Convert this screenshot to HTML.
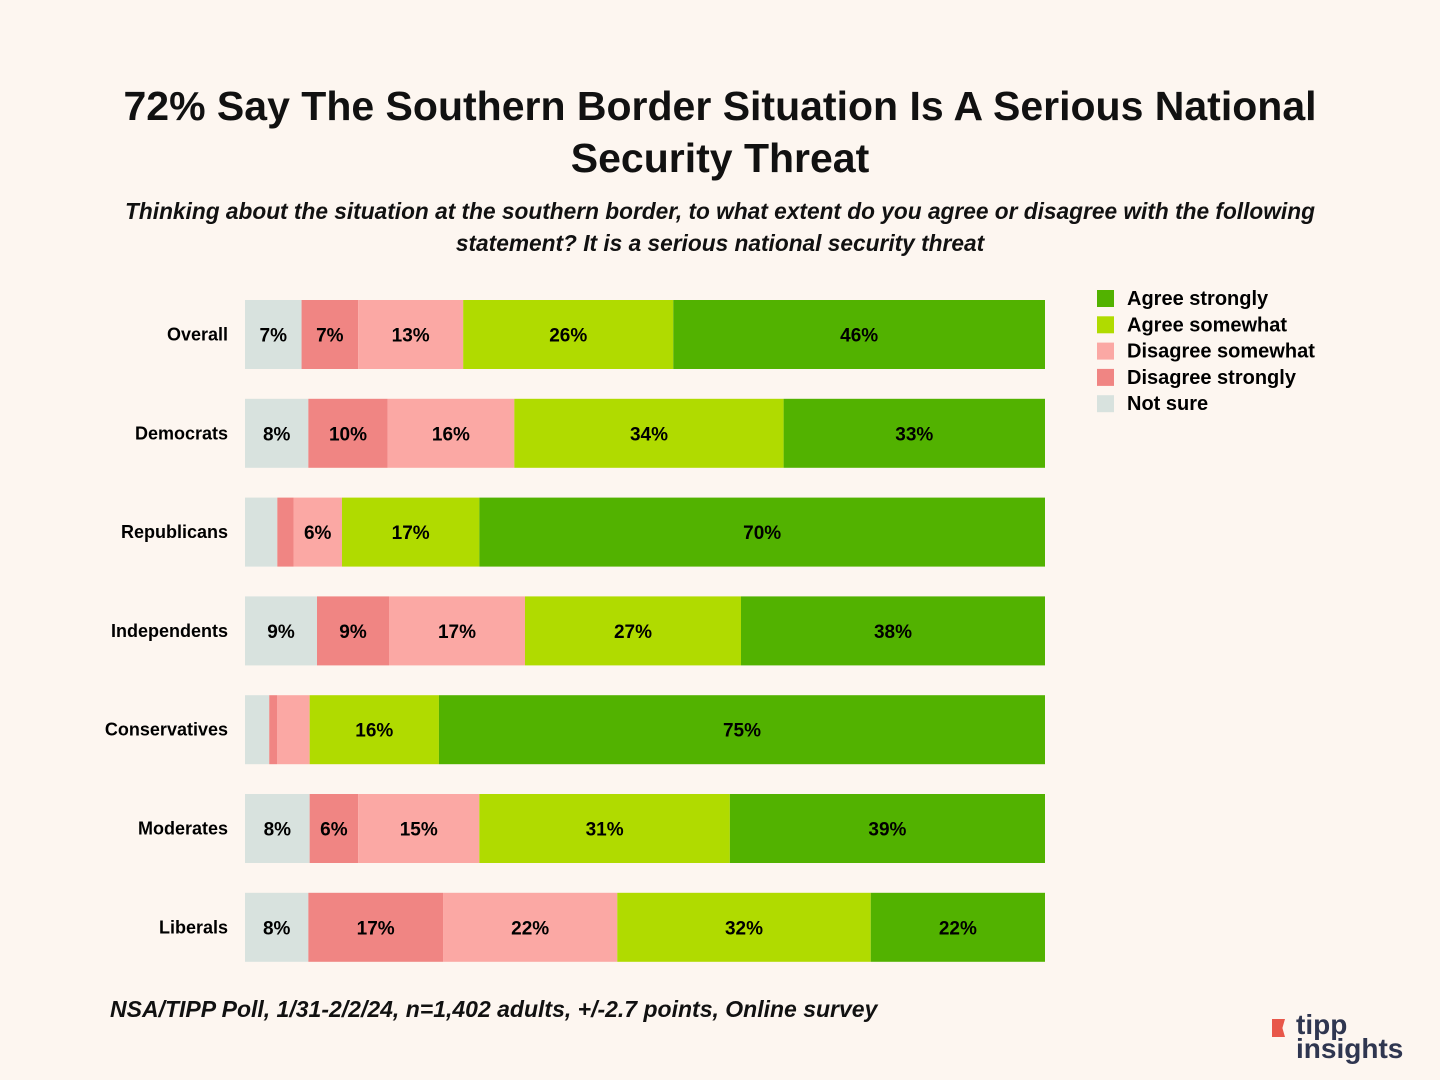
<!DOCTYPE html>
<html><head><meta charset="utf-8"><style>
body{margin:0;background:#fdf6f0;font-family:"Liberation Sans",sans-serif;}
#wrap{position:relative;width:1440px;height:1080px;overflow:hidden;background:#fdf6f0;}
.t{position:absolute;left:0;width:1440px;text-align:center;font-weight:bold;font-size:41px;color:#111;}
.sub{position:absolute;left:0;width:1440px;text-align:center;font-style:italic;font-weight:bold;font-size:22.7px;color:#111;}
</style></head><body>
<div id="wrap">
<div class="t" style="top:80px;line-height:52px">72% Say The Southern Border Situation Is A Serious National<br>Security Threat</div>
<div class="sub" style="top:195px;line-height:32px">Thinking about the situation at the southern border, to what extent do you agree or disagree with the following<br>statement? It is a serious national security threat</div>
<svg id="chart" width="1440" height="1080" style="position:absolute;left:0;top:0"></svg>
<div style="position:absolute;left:110px;top:996px;font-style:italic;font-weight:bold;font-size:23px;color:#111">NSA/TIPP Poll, 1/31-2/2/24, n=1,402 adults, +/-2.7 points, Online survey</div>
<div style="position:absolute;left:1258px;top:1014px">
<div style="position:absolute;left:14px;top:5px;width:13px;height:18px;background:#e8574a;clip-path:polygon(0 0,100% 0,80% 50%,100% 100%,0 100%)"></div>
<div style="position:absolute;left:38px;top:-2px;font-weight:bold;font-size:28px;color:#2f3650;line-height:26px">tipp</div>
<div style="position:absolute;left:38px;top:22px;font-weight:bold;font-size:28px;color:#2f3650;line-height:26px">insights</div>
</div>
</div>
<script>
const categories=["Overall","Democrats","Republicans","Independents","Conservatives","Moderates","Liberals"];
const seriesNames=["Not sure","Disagree strongly","Disagree somewhat","Agree somewhat","Agree strongly"];
const notSure=[7,8,4,9,3,8,8];
const disagreeStrongly=[7,10,2,9,1,6,17];
const disagreeSomewhat=[13,16,6,17,4,15,22];
const agreeSomewhat=[26,34,17,27,16,31,32];
const agreeStrongly=[46,33,70,38,75,39,22];
const colors=["#d8e2de","#f08583","#fba8a4","#b0db00","#52b200"];
const series=[notSure,disagreeStrongly,disagreeSomewhat,agreeSomewhat,agreeStrongly];
const svg=document.getElementById('chart');
const NS="http://www.w3.org/2000/svg";
const x0=245,x1=1045,top0=300,step=98.8,bh=69;
function xs(frac){return x0+frac*(x1-x0);}
function ys(i){return top0+i*step;}
categories.forEach((c,i)=>{
  const total=series.reduce((s,a)=>s+a[i],0);
  let cum=0;
  const lab=document.createElementNS(NS,'text');
  
  
  lab.setAttribute('x',228);lab.setAttribute('y',ys(i)+bh/2+6);
  lab.setAttribute('text-anchor','end');lab.setAttribute('font-size','18');lab.setAttribute('font-weight','bold');
  lab.setAttribute('font-family','Liberation Sans, sans-serif');lab.textContent=c;svg.appendChild(lab);
  series.forEach((arr,k)=>{
    const v=arr[i];const xa=xs(cum/total);cum+=v;const xb=xs(cum/total);
    const r=document.createElementNS(NS,'rect');
    
    
    r.setAttribute('x',xa);r.setAttribute('y',ys(i));r.setAttribute('width',xb-xa);r.setAttribute('height',bh);
    r.setAttribute('fill',colors[k]);svg.appendChild(r);
    if(v>=5){
      const t=document.createElementNS(NS,'text');
      
      
      t.setAttribute('x',(xa+xb)/2);t.setAttribute('y',ys(i)+bh/2+7);
      t.setAttribute('text-anchor','middle');t.setAttribute('font-size','19');t.setAttribute('font-weight','bold');
      t.setAttribute('font-family','Liberation Sans, sans-serif');t.textContent=v+'%';svg.appendChild(t);
    }
  });
});
const legendOrder=[4,3,2,1,0];
legendOrder.forEach((k,j)=>{
  const y=290+j*26.3;
  const r=document.createElementNS(NS,'rect');
  
  
  r.setAttribute('x',1097);r.setAttribute('y',y);r.setAttribute('width',17);r.setAttribute('height',17);r.setAttribute('fill',colors[k]);svg.appendChild(r);
  const t=document.createElementNS(NS,'text');
  
  
  t.setAttribute('x',1127);t.setAttribute('y',y+15);t.setAttribute('font-size','20');t.setAttribute('font-weight','bold');
  t.setAttribute('font-family','Liberation Sans, sans-serif');t.textContent=seriesNames[k];svg.appendChild(t);
});
</script>
</body></html>
